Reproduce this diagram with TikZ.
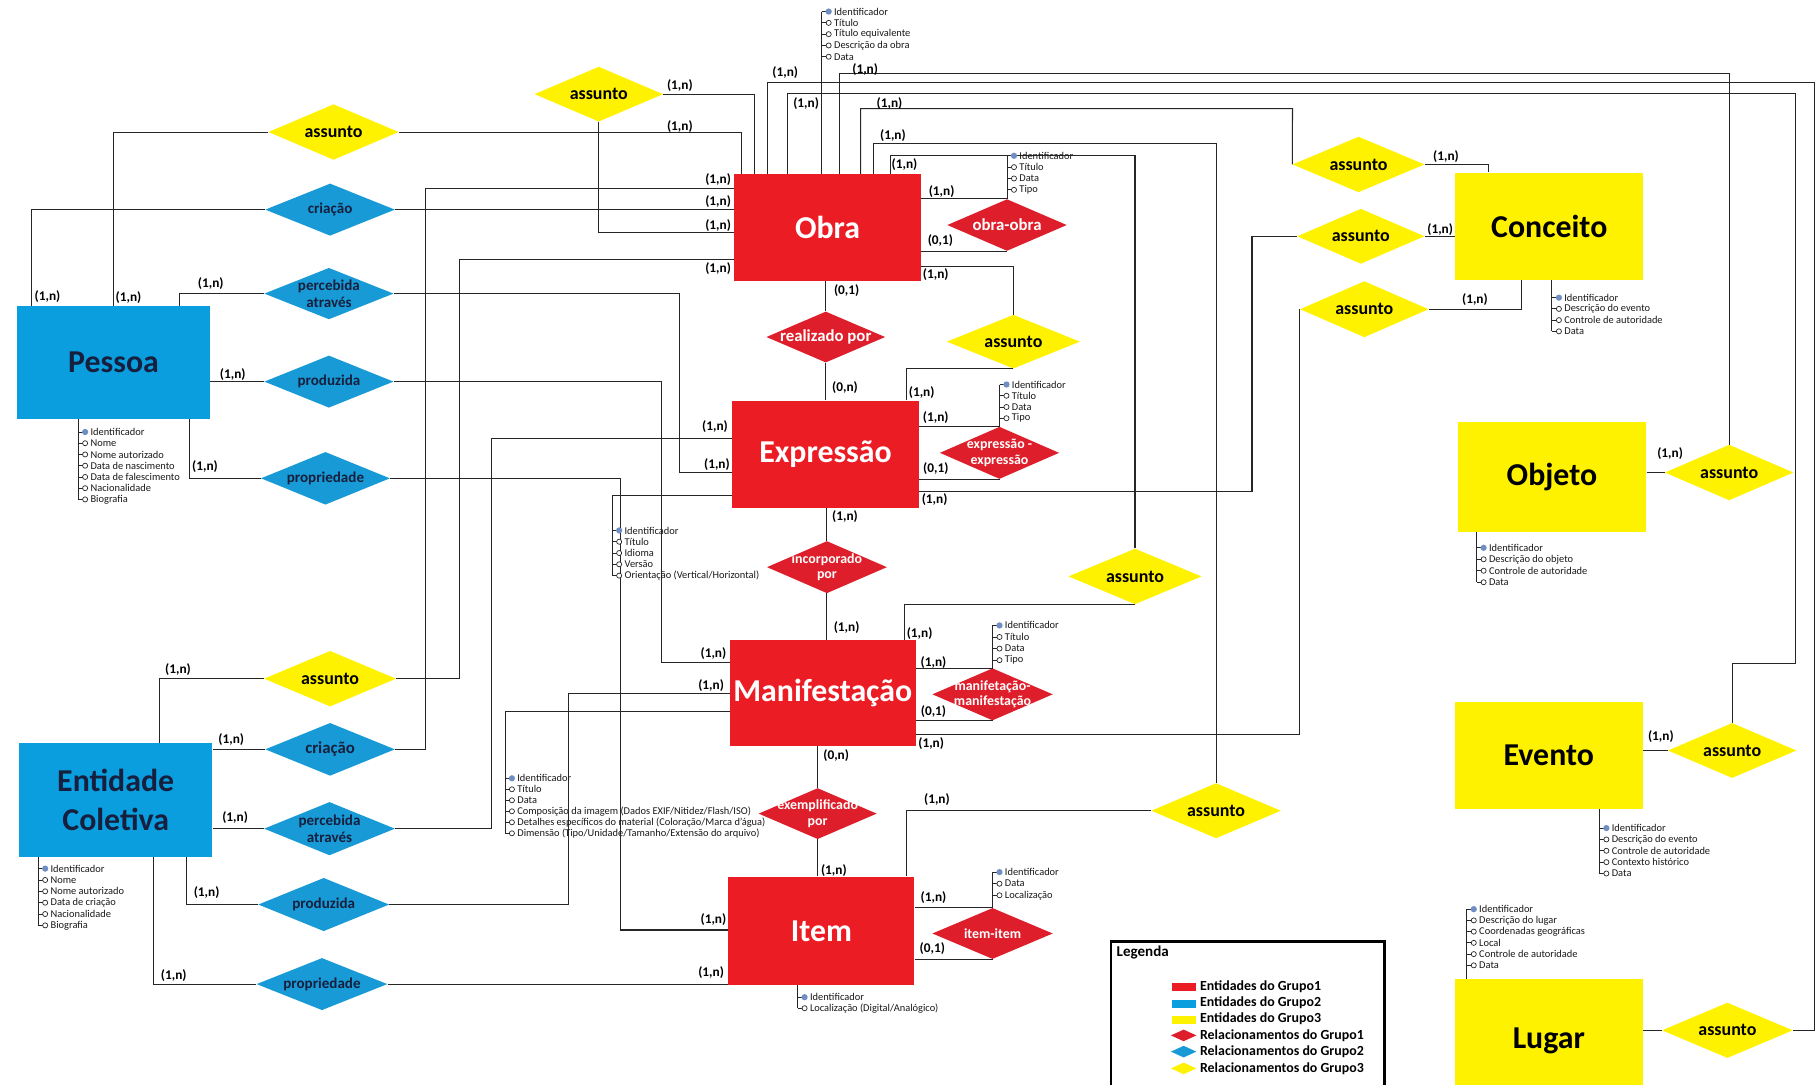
\documentclass[tikz,border=0pt]{standalone}
\usepackage{fontspec}
\setmainfont{Carlito}
\usetikzlibrary{shapes.geometric}
\definecolor{cred}{RGB}{236,28,36}
\definecolor{cdred}{RGB}{222,30,42}
\definecolor{cblue}{RGB}{10,158,222}
\definecolor{cdblue}{RGB}{24,154,214}
\definecolor{cyel}{RGB}{255,242,0}
\definecolor{navy}{RGB}{22,32,62}
\definecolor{attrblue}{RGB}{112,142,196}

\newcommand{\attrlist}[5]{%
  \foreach \atxt [count=\i from 0] in {#5} {
    \pgfmathsetmacro{\yy}{#3+\i*#4}
    \draw[black!85, line width=0.7pt] (#2,\yy) -- (#2+3.8,\yy);
    \ifnum\i=0 \fill[attrblue] (#2+6,\yy) circle (2.7pt);
    \else \draw[black!85, line width=0.6pt, fill=white] (#2+6,\yy) circle (2.2pt); \fi
    \node[attrtxt] (#1\i) at (#2+10.5,\yy) {\atxt};
  }
}

\begin{document}
\begin{tikzpicture}[x=1pt,y=-1pt,
  ln/.style={draw=black!85, line width=0.9pt},
  aln/.style={draw=black!85, line width=0.8pt},
  ent/.style={rectangle, inner sep=0pt, align=center, font=\bfseries\fontsize{27.5}{33}\selectfont},
  entR/.style={ent, fill=cred, text=white},
  entB/.style={ent, fill=cblue, text=navy},
  entY/.style={ent, fill=cyel, text=black},
  rel/.style 2 args={diamond, inner sep=0pt, minimum width=#1, minimum height=#2},
  ylab/.style={font=\bfseries\fontsize{15.5}{17}\selectfont, text=black},
  blab/.style={font=\bfseries\fontsize{13}{15}\selectfont, text=navy, align=center},
  rlab/.style={font=\bfseries\fontsize{14.5}{16}\selectfont, text=white, align=center},
  rlabs/.style={font=\bfseries\fontsize{12}{13.5}\selectfont, text=white, align=center},
  card/.style={font=\bfseries\fontsize{11.5}{12}\selectfont, inner sep=0pt, text=black},
  attrtxt/.style={font=\fontsize{9}{9.5}\selectfont, inner sep=0pt, anchor=west, text=black!90},
  legtxt/.style={font=\bfseries\fontsize{12}{13}\selectfont, inner sep=0pt, anchor=west, text=black}
]
\useasboundingbox (0,0) rectangle (1568,936);
\clip (0,0) rectangle (1568,936);
\fill[white] (0,0) rectangle (1568,936);

% ---------- entities ----------
\node[entR, minimum width=161, minimum height=92.5] (obra) at (714.5,196.5) {Obra};
\node[entR, minimum width=161.5, minimum height=92.6] (expr) at (712.8,392.3) {Expressão};
\node[entR, minimum width=160.2, minimum height=91] (manif) at (710.4,598.5) {Manifestação};
\node[entR, minimum width=160.5, minimum height=93.5] (item) at (709.2,803.7) {Item};
\node[entB, minimum width=166, minimum height=97.8] (pessoa) at (98,313) {Pessoa};
\node[entB, minimum width=167, minimum height=98] (ec) at (99.9,690.7) {Entidade\\Coletiva};
\node[entY, minimum width=162.5, minimum height=92.8] (conceito) at (1337.7,195.4) {Conceito};
\node[entY, minimum width=163, minimum height=95] (objeto) at (1340,411.5) {Objeto};
\node[entY, minimum width=162.6, minimum height=92.7] (evento) at (1337.3,652.3) {Evento};
\node[entY, minimum width=162.6, minimum height=107] (lugar) at (1337.3,899) {Lugar};

% ---------- relationships ----------
\node[rel={111}{47.4}, fill=cyel, label={[ylab]center:assunto}] (aTop) at (517,81.3) {};
\node[rel={112.5}{48}, fill=cyel, label={[ylab]center:assunto}] (aL) at (288,114) {};
\node[rel={112}{45}, fill=cdblue, label={[blab]center:criação}] (crP) at (285,181) {};
\node[rel={111.6}{44.4}, fill=cdblue, label={[blab]center:percebida\\através}] (peP) at (284,253.5) {};
\node[rel={111.6}{45}, fill=cdblue, label={[blab]center:produzida}] (prP) at (284,329.5) {};
\node[rel={111.4}{45.5}, fill=cdblue, label={[blab]center:propriedade}] (ppP) at (281,413) {};
\node[rel={114}{48}, fill=cyel, label={[ylab]center:assunto}] (aEC) at (285,586) {};
\node[rel={112}{45.6}, fill=cdblue, label={[blab, font=\bfseries\fontsize{14.5}{16}\selectfont]center:criação}] (crEC) at (285,647) {};
\node[rel={113}{46}, fill=cdblue, label={[blab]center:percebida\\através}] (peEC) at (284.5,715.5) {};
\node[rel={113}{46}, fill=cdblue, label={[blab]center:produzida}] (prEC) at (279.5,781) {};
\node[rel={113}{45}, fill=cdblue, label={[blab]center:propriedade}] (ppEC) at (278,849.7) {};

\node[rel={103.2}{44.6}, fill=cdred, label={[rlab]center:obra-obra}] (oo) at (869.5,194.3) {};
\node[rel={102.6}{44}, fill=cdred, label={[rlab]center:realizado por}] (rp) at (713,291) {};
\node[rel={115}{46.4}, fill=cyel, label={[ylab]center:assunto}] (aO) at (875,295) {};
\node[rel={103}{45}, fill=cdred, label={[rlabs]center:expressão -\\expressão}] (ee) at (863,391) {};
\node[rel={103.6}{45}, fill=cdred, label={[rlabs]center:incorporado\\por}] (ip) at (714,489.7) {};
\node[rel={115}{48}, fill=cyel, label={[ylab]center:assunto}] (aE) at (980,497.7) {};
\node[rel={104}{45}, fill=cdred, label={[rlabs]center:manifetação-\\manifestação}] (mm) at (857,599.5) {};
\node[rel={102}{44}, fill=cdred, label={[rlabs]center:exemplificado\\por}] (ep) at (706,702.5) {};
\node[rel={112}{47.6}, fill=cyel, label={[ylab]center:assunto}] (aM) at (1050,700) {};
\node[rel={104}{44}, fill=cdred, label={[rlabs]center:item-item}] (ii) at (857,806) {};

\node[rel={114}{48}, fill=cyel, label={[ylab]center:assunto}] (aC1) at (1173,142) {};
\node[rel={110}{47.5}, fill=cyel, label={[ylab]center:assunto}] (aC2) at (1175,204) {};
\node[rel={111}{48.4}, fill=cyel, label={[ylab]center:assunto}] (aC3) at (1178,267) {};
\node[rel={111}{48}, fill=cyel, label={[ylab]center:assunto}] (aOb) at (1493,408) {};
\node[rel={111}{47.5}, fill=cyel, label={[ylab]center:assunto}] (aEv) at (1495.6,648) {};
\node[rel={113}{47.8}, fill=cyel, label={[ylab]center:assunto}] (aLu) at (1491.5,889.6) {};

% ---------- connectors: Pessoa ----------
\draw[ln] (aL.east) -| (640,0 |- obra.north);
\draw[ln] (aL.west) -| (97.6,0 |- pessoa.north);
\draw[ln] (aTop.east) -| (651.5,0 |- obra.north);
\draw[ln] (aTop.south) |- (obra.west |- 0,201);
\draw[ln] (crP.east) -- (crP.east -| obra.west);
\draw[ln] (crP.west) -| (27.3,0 |- pessoa.north);
\draw[ln] (peP.west) -| (155,0 |- pessoa.north);
\draw[ln] (peP.east) -| (586.5,408) -- (expr.west |- 0,408);
\draw[ln] (prP.west) -- (prP.west -| pessoa.east);
\draw[ln] (prP.east) -| (571,572) -- (manif.west |- 0,572);
\draw[ln] (ppP.west) -| (163.6,0 |- pessoa.south);
\draw[ln] (ppP.east) -| (535.5,803) -- (item.west |- 0,803);
% ---------- connectors: Entidade Coletiva ----------
\draw[ln] (aEC.west) -| (137.8,0 |- ec.north);
\draw[ln] (aEC.east) -| (397,224) -- (obra.west |- 0,224);
\draw[ln] (crEC.west) -- (crEC.west -| ec.east);
\draw[ln] (crEC.east) -| (367,163) -- (obra.west |- 0,163);
\draw[ln] (peEC.west) -- (peEC.west -| ec.east);
\draw[ln] (peEC.east) -| (424.4,379) -- (expr.west |- 0,379);
\draw[ln] (prEC.west) -| (161,0 |- ec.south);
\draw[ln] (prEC.east) -| (490.5,599) -- (manif.west |- 0,599);
\draw[ln] (ppEC.west) -| (132.8,0 |- ec.south);
\draw[ln] (ppEC.east) -- (ppEC.east -| item.west);
% ---------- connectors: Obra top ----------
\draw[ln] (obra.north -| 663,0) |- (1567,71.4) |- (aLu.east);
\draw[ln] (obra.north -| 680,0) |- (1550,80.6) |- (1495.6,572.7) -- (aEv.north);
\draw[ln] (obra.north -| 725,0) |- (1493,63.5) -- (aOb.north);
\draw[ln] (obra.north -| 743,0) |- (1116,93.8) -- (aC1.west);
\draw[ln] (aC1.east) -| (1285,0 |- conceito.north);
\draw[ln] (obra.north -| 754,0) |- (1050,124) -- (aM.north);
\draw[ln] (aM.west) -| (783,0 |- item.north);
\draw[ln] (obra.north -| 769,0) |- (980,134.5) -- (aE.north);
\draw[ln] (aE.south) -| (780.6,0 |- manif.north);
% ---------- connectors: Obra right / bottom ----------
\draw[ln] (oo.north -| obra.east) -- (oo.north);
\draw[ln] (oo.south -| obra.east) -- (oo.south);
\draw[ln] (obra.east |- 0,230) -| (aO.north);
\draw[ln] (aO.south) -| (783,0 |- expr.north);
\draw[ln] (obra.south -| rp.north) -- (rp.north);
\draw[ln] (rp.south) -- (rp.south |- expr.north);
% ---------- Expressão ----------
\draw[ln] (ee.north -| expr.east) -- (ee.north);
\draw[ln] (ee.south -| expr.east) -- (ee.south);
\draw[ln] (expr.east |- 0,424) -| (1081,204) -- (aC2.west);
\draw[ln] (aC2.east) -- (aC2.east -| conceito.west);
\draw[ln] (expr.south -| ip.north) -- (ip.north);
\draw[ln] (ip.south) -- (ip.south |- manif.north);
% ---------- Manifestação ----------
\draw[ln] (mm.north -| manif.east) -- (mm.north);
\draw[ln] (mm.south -| manif.east) -- (mm.south);
\draw[ln] (manif.east |- 0,634.6) -| (aC3.west);
\draw[ln] (aC3.east) -| (1314,0 |- conceito.south);
\draw[ln] (manif.south -| ep.north) -- (ep.north);
\draw[ln] (ep.south) -- (ep.south |- item.north);
% ---------- Item ----------
\draw[ln] (ii.north -| item.east) -- (ii.north);
\draw[ln] (ii.south -| item.east) -- (ii.south);
% ---------- group 3 ----------
\draw[ln] (aOb.west -| objeto.east) -- (aOb.west);
\draw[ln] (aEv.west -| evento.east) -- (aEv.west);
\draw[ln] (aLu.west -| lugar.east) -- (aLu.west);

% ---------- attribute lists ----------
\draw[aln] (709.5,10) -- (obra.north -| 709.5,0);
\attrlist{oA}{709.5}{10}{9.75}{Identificador,Título,Título equivalente,Descrição da obra,Data}
\draw[aln] (869.5,134.5) -- (oo.north);
\attrlist{ooA}{869.5}{134.5}{9.8}{Identificador,Título,Data,Tipo}
\draw[aln] (863,332) -- (ee.north);
\attrlist{eeA}{863}{332}{9.7}{Identificador,Título,Data,Tipo}
\draw[aln] (857,540) -- (mm.north);
\attrlist{mmA}{857}{540}{10}{Identificador,Título,Data,Tipo}
\draw[aln] (857,753) -- (ii.north);
\attrlist{iiA}{857}{753}{10}{Identificador,Data,Localização}
\draw[aln] (item.south -| 688.7,0) -- (688.7,870.5);
\attrlist{itA}{688.7}{861}{9.5}{Identificador,Localização (Digital/Analógico)}
\draw[aln] (pessoa.south -| 67.5,0) -- (67.5,431.2);
\attrlist{pA}{67.5}{373}{9.7}{Identificador,Nome,Nome autorizado,Data de nascimento,Data de falescimento,Nacionalidade,Biografia}
\draw[aln] (ec.south -| 33,0) -- (33,799);
\attrlist{ecA}{33}{750}{9.8}{Identificador,Nome,Nome autorizado,Data de criação,Nacionalidade,Biografia}
\draw[aln] (expr.west |- 0,428) -| (528.6,497);
\attrlist{exA}{528.6}{458}{9.75}{Identificador,Título,Idioma,Versão,Orientação (Vertical/Horizontal)}
\draw[aln] (manif.west |- 0,614.5) -| (436,719.5);
\attrlist{maA}{436}{672}{9.5}{Identificador,Título,Data,Composição da imagem (Dados EXIF/Nitidez/Flash/ISO),Detalhes específicos do material (Coloração/Marca d'água),Dimensão (Tipo/Unidade/Tamanho/Extensão do arquivo)}
\draw[aln] (conceito.south -| 1340,0) -- (1340,286.1);
\attrlist{cA}{1340}{257}{9.7}{Identificador,Descrição do evento,Controle de autoridade,Data}
\draw[aln] (objeto.south -| 1275,0) -- (1275,502.7);
\attrlist{obA}{1275}{473}{9.9}{Identificador,Descrição do objeto,Controle de autoridade,Data}
\draw[aln] (evento.south -| 1381,0) -- (1381,754.2);
\attrlist{evA}{1381}{715}{9.8}{Identificador,Descrição do evento,Controle de autoridade,Contexto histórico,Data}
\draw[aln] (1266.5,785) -- (lugar.north -| 1266.5,0);
\attrlist{luA}{1266.5}{785}{9.7}{Identificador,Descrição do lugar,Coordenadas geográficas,Local,Controle de autoridade,Data}

% ---------- cardinalities ----------
\node[card] (k1) at (620,155) {(1,n)};
\node[card] (k2) at (620,174) {(1,n)};
\node[card] (k3) at (620,195) {(1,n)};
\node[card] (k4) at (620,232) {(1,n)};
\node[card] (k5) at (587,74) {(1,n)};
\node[card] (k6) at (587,109) {(1,n)};
\node[card] (k7) at (41,256) {(1,n)};
\node[card] (k8) at (111,257) {(1,n)};
\node[card] (k9) at (182,245) {(1,n)};
\node[card] (k10) at (201,323.8) {(1,n)};
\node[card] (k11) at (177,403) {(1,n)};
\node[card] (k12) at (678,63) {(1,n)};
\node[card] (k13) at (696,89) {(1,n)};
\node[card] (k14) at (747,60) {(1,n)};
\node[card] (k15) at (768,89) {(1,n)};
\node[card] (k16) at (771,117) {(1,n)};
\node[card] (k17) at (781,142) {(1,n)};
\node[card] (k18) at (813,165) {(1,n)};
\node[card] (k19) at (812,208) {(0,1)};
\node[card] (k20) at (808,237) {(1,n)};
\node[card] (k21) at (731,251) {(0,1)};
\node[card] (k22) at (729.6,335) {(0,n)};
\node[card] (k23) at (795.8,339) {(1,n)};
\node[card] (k24) at (617.4,368.4) {(1,n)};
\node[card] (k25) at (619,401.5) {(1,n)};
\node[card] (k26) at (808,360.6) {(1,n)};
\node[card] (k27) at (808,405) {(0,1)};
\node[card] (k28) at (807,431) {(1,n)};
\node[card] (k29) at (729.6,446) {(1,n)};
\node[card] (k30) at (731,542) {(1,n)};
\node[card] (k31) at (794,547) {(1,n)};
\node[card] (k32) at (616,564) {(1,n)};
\node[card] (k33) at (614,592) {(1,n)};
\node[card] (k34) at (806,572) {(1,n)};
\node[card] (k35) at (806,614.5) {(0,1)};
\node[card] (k36) at (804,641.6) {(1,n)};
\node[card] (k37) at (722,652.7) {(0,n)};
\node[card] (k38) at (720,751.8) {(1,n)};
\node[card] (k39) at (809,690.6) {(1,n)};
\node[card] (k40) at (616,794) {(1,n)};
\node[card] (k41) at (614,840) {(1,n)};
\node[card] (k42) at (806,774.6) {(1,n)};
\node[card] (k43) at (805,818.6) {(0,1)};
\node[card] (k44) at (153.7,578.5) {(1,n)};
\node[card] (k45) at (199.7,638.4) {(1,n)};
\node[card] (k46) at (203,706) {(1,n)};
\node[card] (k47) at (178.4,771) {(1,n)};
\node[card] (k48) at (150,842) {(1,n)};
\node[card] (k49) at (1248.5,135) {(1,n)};
\node[card] (k50) at (1243.5,198.6) {(1,n)};
\node[card] (k51) at (1273.5,259) {(1,n)};
\node[card] (k52) at (1442,392) {(1,n)};
\node[card] (k53) at (1434,636) {(1,n)};

% ---------- legend ----------
\node[draw=black, line width=2.4pt, minimum width=236, minimum height=132, anchor=north west, inner sep=0pt] (leg) at (958,812) {};
\node[anchor=west, inner sep=0pt, font=\bfseries\fontsize{13}{14}\selectfont] (legT) at (964,822) {Legenda};
\fill[cred] (1012,849) rectangle (1033,856);
\fill[cblue] (1012,863) rectangle (1033,870);
\fill[cyel] (1012,877) rectangle (1033,884);
\fill[cdred] (1011,894) -- (1022,889) -- (1033,894) -- (1022,899) -- cycle;
\fill[cdblue] (1011,908) -- (1022,903) -- (1033,908) -- (1022,913) -- cycle;
\fill[cyel] (1011,922.5) -- (1022,917.5) -- (1033,922.5) -- (1022,927.5) -- cycle;
\node[legtxt] (lg1) at (1036,852) {Entidades do Grupo1};
\node[legtxt] (lg2) at (1036,866) {Entidades do Grupo2};
\node[legtxt] (lg3) at (1036,880) {Entidades do Grupo3};
\node[legtxt] (lg4) at (1036,894) {Relacionamentos do Grupo1};
\node[legtxt] (lg5) at (1036,908) {Relacionamentos do Grupo2};
\node[legtxt] (lg6) at (1036,922.5) {Relacionamentos do Grupo3};
\end{tikzpicture}
\end{document}
